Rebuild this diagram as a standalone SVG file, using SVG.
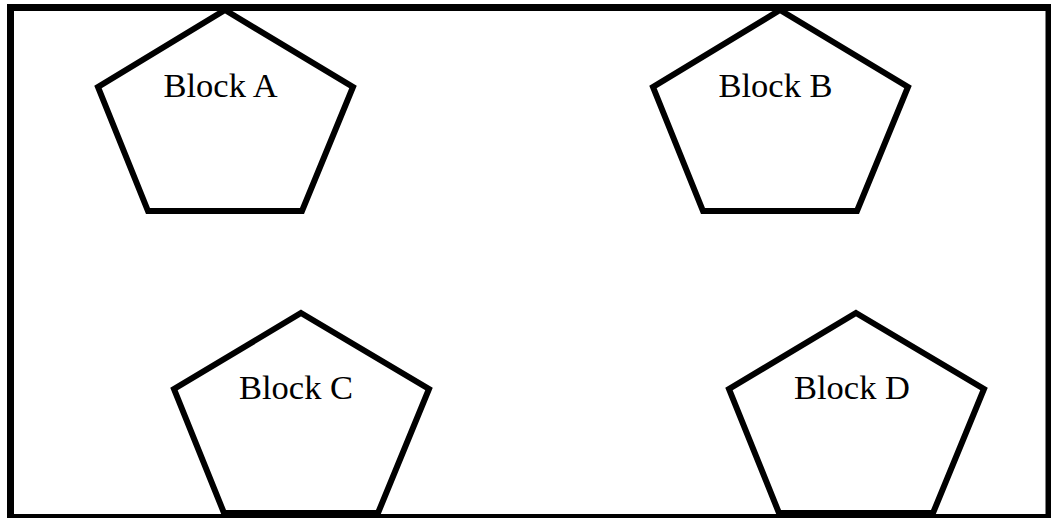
<svg xmlns="http://www.w3.org/2000/svg" width="1051" height="518" viewBox="0 0 1051 518">
<style>
.frame{fill:#fff;stroke:#000;stroke-width:7}
.blk{fill:#fff;stroke:#000;stroke-width:6;stroke-linejoin:miter}
.lbl{font-family:"Liberation Serif","Times New Roman",serif;font-size:34.5px;fill:#000}
</style>
<rect class="frame" x="10.5" y="7.5" width="1038.5" height="510"/>
<g id="connectors"></g>
<g id="blockA">
<polygon class="blk" points="225,10 353,87 302,211 148,211 98,87"/>
<text class="lbl" x="163.5" y="96.5">Block A</text>
</g>
<g id="blockB">
<polygon class="blk" points="780,10 908,87 857,211 703,211 653,87"/>
<text class="lbl" x="718.5" y="96.5">Block B</text>
</g>
<g id="blockC">
<polygon class="blk" points="301,313 429,389 378,513 224,513 174,389"/>
<text class="lbl" x="239" y="399">Block C</text>
</g>
<g id="blockD">
<polygon class="blk" points="856,313 984,389 933,513 779,513 729,389"/>
<text class="lbl" x="794" y="399">Block D</text>
</g>
</svg>
